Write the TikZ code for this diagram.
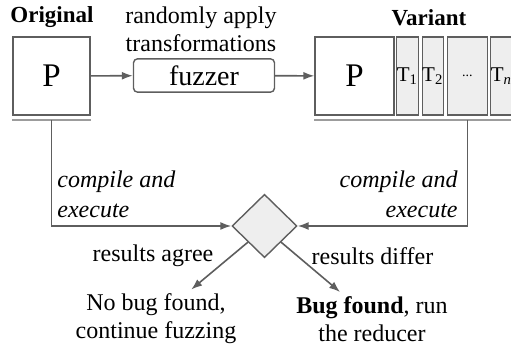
\documentclass[tikz,border=0pt]{standalone}
\usepackage{fontspec}
\setmainfont{Liberation Serif}
\usepackage{tikz}
\usetikzlibrary{arrows.meta,positioning,shapes.geometric}
\definecolor{linegray}{HTML}{5E5E5E}
\definecolor{boxgray}{HTML}{EEEEEE}
\definecolor{rulegray}{HTML}{9C9C9C}
\begin{document}
\begin{tikzpicture}[
		x=0.5pt, y=-0.5pt,
		>={Latex[length=5.5pt,width=4pt]},
		font=\rmfamily\fontsize{12}{14}\selectfont,
		prog/.style={
			rectangle,
			draw=linegray,
			line width=0.7pt,
			minimum height=39pt,
			inner sep=0pt,
			fill=white,
			font=\rmfamily\fontsize{16.5}{18}\selectfont
		},
		trans/.style={
			prog,
			fill=boxgray,
			font=\rmfamily\fontsize{10.5}{12}\selectfont
		},
		fuzz/.style={
			rectangle,
			rounded corners=2pt,
			draw=linegray,
			line width=0.7pt,
			minimum width=70.5pt,
			minimum height=15.75pt,
			font=\rmfamily\fontsize{14}{16}\selectfont
		},
		check/.style={
			diamond,
			aspect=1,
			draw=linegray,
			fill=boxgray,
			line width=0.7pt,
			minimum width=32.5pt,
			minimum height=31.7pt,
			inner sep=0pt
		},
		title/.style={
			font=\rmfamily\bfseries\fontsize{11.5}{13}\selectfont
		},
		note/.style={
			align=center,
			inner sep=2pt
		},
		flow/.style={
			draw=linegray,
			line width=0.8pt
		},
		under/.style={
			draw=rulegray,
			line width=1.1pt
		}
		]
		\useasboundingbox (0,0) rectangle (511,351);
		
		% We start by placing the blocks
		\node [prog, minimum width=38.5pt] (orig) at (51.5,76) {P};
		\node [title] (origtitle) at (52,17) {Original};
		
		\node [fuzz] (fuzzer) at (204,75.5) {fuzzer};
		\node [note] (fuzztext) at (201,29) {randomly apply\\transformations};
		
		\node [prog, minimum width=39.5pt] (varp) at (354.5,76) {P};
		\node [trans, minimum width=10.8pt] (t1) at (407.5,76) {T\textsubscript{1}};
		\node [trans, minimum width=10.5pt] (t2) at (432.8,76) {T\textsubscript{2}};
		\node [trans, minimum width=19.8pt, font=\rmfamily\fontsize{7}{8}\selectfont] (dots) at (467.5,76) {...};
		\node [trans, minimum width=10.8pt] (tn) at (501.5,76) {T\textsubscript{\textit{n}}};
		\node [title] (vartitle) at (429,18) {Variant};
		
		\node [check] (check) at (264.5,226) {};
		
		\node [note, font=\rmfamily\itshape\fontsize{12}{15}\selectfont, align=left, anchor=west] (compleft) at (53,194) {compile and\\execute};
		\node [note, font=\rmfamily\itshape\fontsize{12}{15}\selectfont, align=right, anchor=east] (compright) at (462,194) {compile and\\execute};
		
		\node [note] (agree) at (153,256) {results agree};
		\node [note] (differ) at (372.5,256) {results differ};
		
		\node [note] (nobug) at (156,319) {No bug found,\\continue fuzzing};
		\node [note] (bug) at (372,319) {\textbf{Bug found}, run\\the reducer};
		
		% the rules under the programs
		\draw [under] ([yshift=-2.1pt]orig.south west) -- ([yshift=-2.1pt]orig.south east);
		\draw [under] ([yshift=-2.1pt]varp.south west) -- ([yshift=-2.1pt]tn.south east);
		
		% then the arrows
		\draw [flow,->] (orig) -- (fuzzer);
		\draw [flow,->] (fuzzer) -- (varp);
		\draw [flow,->] ([yshift=-2.1pt]orig.south) |- (check);
		\draw [flow,->] ([yshift=-2.1pt]dots.south) |- (check);
		\draw [flow,->] (check.south west) -- (nobug);
		\draw [flow,->] (check.south east) -- (bug);
		
\end{tikzpicture}
\end{document}
